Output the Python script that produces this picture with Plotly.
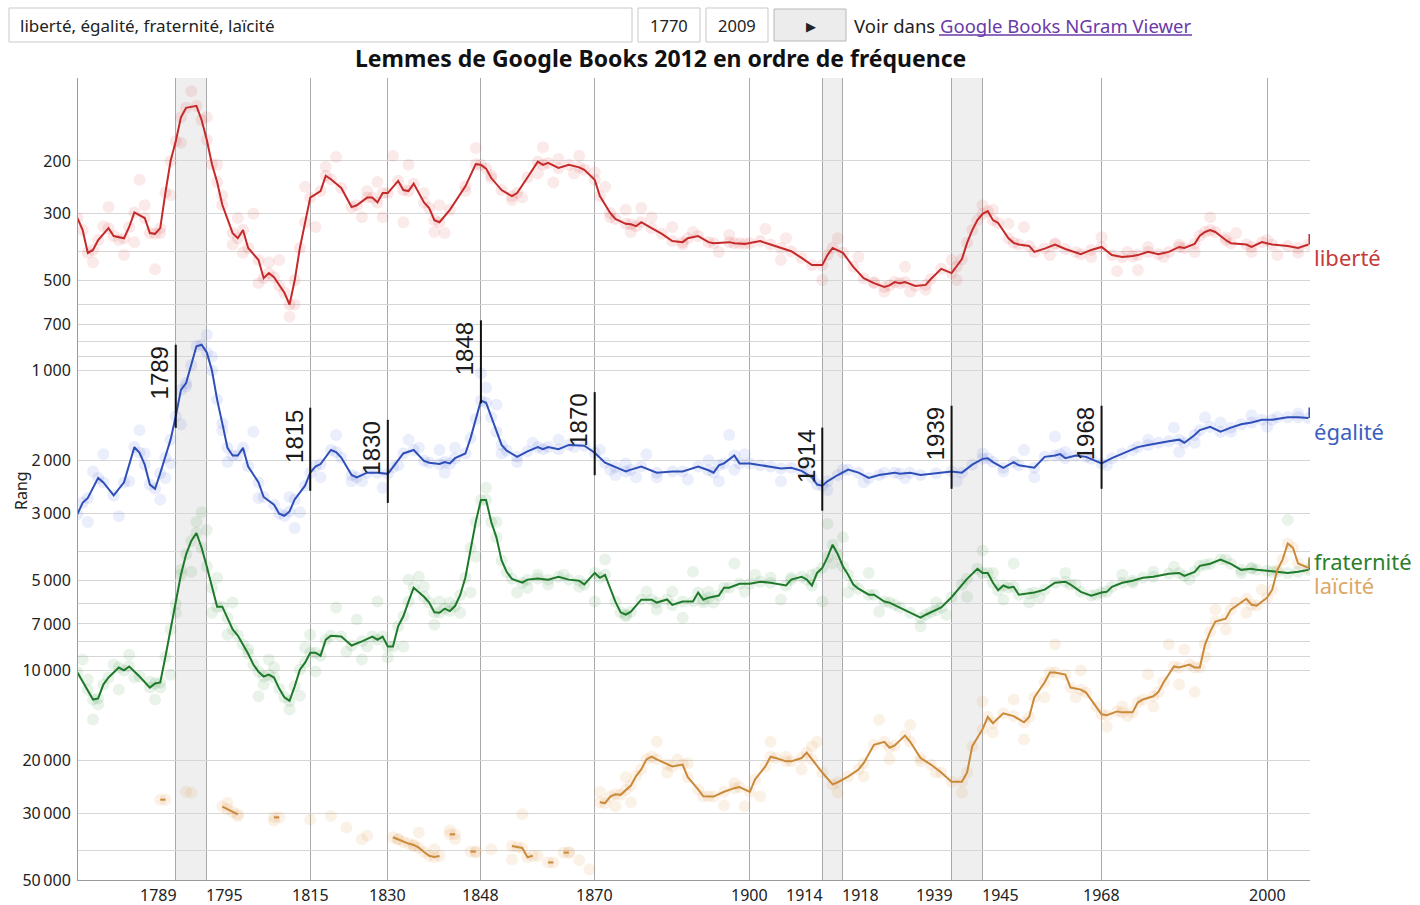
import math
import plotly.graph_objects as go

# ---------------------------------------------------------------------------
# Rank of each lemma (smoothed curve), as (year, rank) pairs
# ---------------------------------------------------------------------------
liberte_curve = [
    (1770, 310), (1771, 340), (1772, 405), (1773, 396), (1774, 367), (1776, 335),
    (1777, 356), (1779, 362), (1780, 332), (1781, 297), (1783, 310), (1784, 348),
    (1785, 350), (1786, 335), (1787, 255), (1788, 200), (1789, 172), (1790, 143),
    (1791, 133), (1793, 131), (1794, 146), (1795, 170), (1796, 205), (1797, 235),
    (1798, 280), (1800, 348), (1801, 362), (1802, 340), (1803, 390), (1805, 428),
    (1806, 492), (1807, 473), (1808, 488), (1809, 520), (1810, 550), (1811, 602),
    (1812, 500), (1813, 390), (1814, 320), (1815, 265), (1817, 252), (1818, 224),
    (1819, 230), (1821, 246), (1823, 285), (1824, 281), (1826, 265), (1827, 265),
    (1828, 275), (1829, 256), (1830, 256), (1832, 233), (1833, 250), (1834, 252),
    (1835, 238), (1837, 275), (1838, 287), (1839, 315), (1840, 320), (1842, 291),
    (1845, 243), (1847, 205), (1848, 206), (1849, 212), (1850, 228), (1852, 250),
    (1854, 262), (1855, 256), (1857, 227), (1859, 201), (1860, 206), (1861, 203),
    (1863, 211), (1865, 206), (1867, 210), (1868, 214), (1870, 231), (1871, 262),
    (1873, 298), (1874, 312), (1876, 324), (1877, 325), (1878, 330), (1879, 320),
    (1881, 335), (1883, 350), (1885, 370), (1887, 373), (1888, 362), (1890, 356),
    (1892, 373), (1893, 376), (1896, 373), (1897, 376), (1899, 378), (1900, 376),
    (1902, 370), (1904, 380), (1906, 390), (1908, 400), (1910, 421), (1912, 445),
    (1914, 445), (1915, 412), (1916, 390), (1918, 405), (1920, 451), (1922, 492),
    (1924, 511), (1926, 526), (1927, 520), (1928, 507), (1929, 511), (1930, 507),
    (1932, 522), (1934, 518), (1935, 495), (1937, 458), (1939, 473), (1940, 450),
    (1941, 425), (1942, 375), (1943, 340), (1944, 315), (1945, 300), (1946, 294),
    (1947, 315), (1948, 322), (1950, 362), (1951, 375), (1952, 380), (1954, 384),
    (1955, 402), (1957, 392), (1959, 380), (1961, 393), (1964, 409), (1966, 396),
    (1968, 387), (1970, 412), (1972, 418), (1974, 415), (1975, 412), (1977, 402),
    (1979, 409), (1981, 402), (1983, 387), (1984, 390), (1986, 378), (1987, 355),
    (1988, 345), (1989, 340), (1990, 345), (1992, 367), (1993, 376), (1996, 380),
    (1997, 387), (1999, 373), (2001, 380), (2004, 384), (2006, 390), (2008, 380),
]

egalite_curve = [
    (1770, 3010), (1771, 2760), (1772, 2660), (1774, 2280), (1775, 2360), (1777, 2610),
    (1779, 2360), (1781, 1800), (1782, 1880), (1783, 2060), (1784, 2400), (1785, 2480),
    (1786, 2200), (1787, 1950), (1788, 1700), (1789, 1420), (1790, 1160), (1791, 1100),
    (1792, 960), (1793, 830), (1794, 820), (1795, 870), (1796, 1000), (1797, 1250),
    (1798, 1500), (1799, 1810), (1800, 1920), (1801, 1920), (1802, 1810), (1803, 2090),
    (1805, 2360), (1806, 2640), (1808, 2800), (1809, 3000), (1810, 3050), (1811, 2950),
    (1812, 2690), (1814, 2420), (1815, 2190), (1816, 2090), (1817, 2050), (1819, 1840),
    (1820, 1870), (1821, 1950), (1823, 2230), (1824, 2270), (1826, 2190), (1828, 2190),
    (1830, 2210), (1831, 2100), (1833, 1890), (1835, 1840), (1837, 2000), (1838, 2030),
    (1840, 2050), (1841, 2020), (1842, 2040), (1843, 1960), (1845, 1890), (1846, 1680),
    (1847, 1450), (1848, 1260), (1849, 1280), (1850, 1430), (1851, 1600), (1852, 1770),
    (1853, 1850), (1855, 1940), (1857, 1860), (1859, 1800), (1860, 1830), (1861, 1800),
    (1863, 1830), (1865, 1770), (1868, 1780), (1870, 1880), (1872, 2030), (1874, 2100),
    (1876, 2170), (1877, 2140), (1879, 2090), (1882, 2190), (1885, 2170), (1887, 2170),
    (1890, 2090), (1892, 2150), (1893, 2190), (1894, 2070), (1895, 2040), (1897, 1920),
    (1898, 2040), (1900, 2040), (1902, 2070), (1904, 2090), (1906, 2120), (1908, 2110),
    (1910, 2160), (1912, 2270), (1913, 2400), (1914, 2420), (1915, 2340), (1917, 2230),
    (1919, 2140), (1921, 2190), (1923, 2280), (1925, 2230), (1928, 2190), (1929, 2210),
    (1931, 2190), (1933, 2230), (1936, 2200), (1939, 2170), (1941, 2190), (1943, 2060),
    (1945, 1970), (1946, 1960), (1947, 2020), (1949, 2110), (1951, 2020), (1952, 2070),
    (1955, 2110), (1957, 1940), (1959, 1920), (1960, 1900), (1961, 1960), (1963, 1920),
    (1965, 1940), (1966, 1970), (1968, 2040), (1970, 1960), (1972, 1890), (1975, 1800),
    (1977, 1770), (1979, 1740), (1981, 1720), (1983, 1700), (1984, 1740), (1986, 1640),
    (1987, 1580), (1989, 1540), (1991, 1600), (1993, 1550), (1995, 1510), (1997, 1490),
    (1999, 1460), (2001, 1460), (2004, 1430), (2006, 1430), (2008, 1440),
]

fraternite_curve = [
    (1770, 10160), (1772, 11590), (1773, 12510), (1774, 12400), (1775, 11150),
    (1776, 10560), (1778, 9780), (1779, 10000), (1780, 9700), (1782, 10480),
    (1784, 11410), (1785, 11060), (1786, 10970), (1787, 9000), (1788, 7300),
    (1789, 6000), (1790, 4800), (1791, 4100), (1792, 3700), (1793, 3480), (1794, 3900),
    (1795, 4500), (1796, 5300), (1797, 6130), (1798, 6130), (1799, 6670), (1800, 7300),
    (1801, 7650), (1802, 8200), (1803, 8800), (1804, 9560), (1805, 10100), (1806, 10480),
    (1807, 10330), (1808, 10560), (1809, 11500), (1810, 12300), (1811, 12640),
    (1812, 11300), (1813, 9940), (1814, 9420), (1815, 8730), (1816, 8730), (1817, 8930),
    (1818, 7900), (1819, 7660), (1821, 7710), (1823, 8260), (1825, 8000), (1827, 7710),
    (1828, 7900), (1829, 7710), (1830, 8320), (1831, 8320), (1832, 7130), (1833, 6600),
    (1834, 5900), (1835, 5300), (1837, 5680), (1838, 5940), (1839, 6400), (1840, 6420),
    (1841, 6220), (1842, 6340), (1843, 6100), (1844, 5600), (1845, 4900), (1846, 3900),
    (1847, 3200), (1848, 2700), (1849, 2700), (1850, 3200), (1851, 3600), (1852, 4300),
    (1853, 4700), (1854, 4950), (1856, 5100), (1857, 4980), (1859, 4940), (1861, 4980),
    (1863, 4870), (1865, 4980), (1867, 5020), (1868, 5170), (1870, 4730), (1871, 4910),
    (1872, 4800), (1874, 5900), (1875, 6400), (1876, 6520), (1877, 6370), (1879, 5810),
    (1881, 5810), (1882, 5940), (1884, 5800), (1885, 6050), (1887, 5890), (1889, 5890),
    (1890, 5500), (1891, 5810), (1892, 5720), (1894, 5630), (1895, 5300), (1896, 5300),
    (1898, 5140), (1900, 5140), (1902, 5060), (1904, 5100), (1907, 5210), (1908, 4980),
    (1910, 4870), (1911, 4980), (1912, 5210), (1913, 4730), (1914, 4550), (1915, 4200),
    (1916, 3810), (1917, 4100), (1918, 4500), (1919, 4800), (1920, 5170), (1921, 5340),
    (1923, 5590), (1924, 5590), (1926, 5890), (1927, 5940), (1929, 6170), (1931, 6420),
    (1933, 6670), (1934, 6520), (1935, 6400), (1936, 6300), (1937, 6170), (1939, 5700),
    (1941, 5170), (1942, 4950), (1944, 4580), (1945, 4730), (1946, 4730), (1947, 5100),
    (1948, 5400), (1949, 5210), (1950, 5300), (1951, 5260), (1952, 5590), (1954, 5550),
    (1955, 5500), (1957, 5380), (1959, 5100), (1961, 5060), (1962, 5170), (1964, 5470),
    (1966, 5630), (1968, 5500), (1969, 5470), (1970, 5260), (1972, 5100), (1974, 5020),
    (1976, 4910), (1978, 4870), (1981, 4760), (1983, 4730), (1984, 4840), (1986, 4690),
    (1987, 4480), (1989, 4410), (1991, 4270), (1993, 4410), (1995, 4620), (1997, 4580),
    (1998, 4620), (2000, 4650), (2002, 4690), (2004, 4730), (2006, 4690), (2008, 4620),
]

# laïcité is sparse before 1871: None marks a year without data (breaks the curve)
laicite_curve = [
    (1786, 26980), (1787, 26980), (1788, None),
    (1798, 28440), (1799, 29000), (1800, 29700), (1801, 30190), (1802, None),
    (1808, 30900), (1809, 30900), (1810, None),
    (1831, 36000), (1832, 36600), (1833, 37300), (1834, 37800), (1835, 38200),
    (1836, 39000), (1837, 40350), (1838, 41500), (1839, 41900), (1840, 41600), (1841, None),
    (1842, 35200), (1843, 35200), (1844, None),
    (1846, 40200), (1847, 40200), (1848, None),
    (1854, 38500), (1855, 38800), (1856, 39100), (1857, 42000), (1858, 41500), (1859, None),
    (1861, 43700), (1862, 43700), (1863, None),
    (1864, 40500), (1865, 40500), (1866, None),
    (1871, 27500), (1872, 27700), (1873, 26350), (1874, 25900), (1875, 26000),
    (1876, 25000), (1877, 24200), (1878, 22500), (1879, 21400), (1880, 19800),
    (1881, 19400), (1882, 19800), (1884, 20600), (1885, 20900), (1887, 20600),
    (1888, 22700), (1890, 24950), (1891, 26300), (1893, 26350), (1895, 25400),
    (1897, 24700), (1898, 24500), (1900, 25400), (1901, 23100), (1903, 20900),
    (1904, 19400), (1905, 19600), (1907, 20100), (1908, 20100), (1910, 19600),
    (1911, 18800), (1912, 19800), (1914, 21900), (1916, 24000), (1917, 23600),
    (1919, 22600), (1921, 21400), (1922, 20400), (1924, 17700), (1926, 17300),
    (1927, 18100), (1928, 17800), (1930, 16500), (1931, 17300), (1933, 19600),
    (1935, 20600), (1937, 21900), (1939, 23500), (1941, 23500), (1942, 21900),
    (1943, 17900), (1945, 15700), (1946, 14300), (1947, 15000), (1949, 13900),
    (1951, 14200), (1953, 14900), (1954, 14300), (1955, 12300), (1957, 10950),
    (1958, 10160), (1959, 10160), (1961, 10330), (1962, 11410), (1964, 11590),
    (1965, 11860), (1967, 13200), (1968, 14000), (1969, 14100), (1971, 13700),
    (1972, 13800), (1974, 13800), (1975, 12800), (1976, 12500), (1978, 12200),
    (1979, 11800), (1980, 10950), (1982, 9700), (1983, 9780), (1985, 9560),
    (1986, 9780), (1987, 9780), (1988, 8200), (1989, 7420), (1990, 6870), (1992, 6720),
    (1993, 6270), (1996, 5770), (1997, 6040), (1998, 6080), (2000, 5720), (2001, 5380),
    (2002, 4620), (2003, 4270), (2004, 3770), (2005, 3900), (2006, 4400), (2008, 4550),
]

# ---------------------------------------------------------------------------
# Yearly raw ranks that stand out from the smoothed curves
# ---------------------------------------------------------------------------
liberte_points = [
    (1773, 435), (1775, 330), (1776, 285), (1778, 367), (1779, 412), (1781, 373),
    (1782, 231), (1783, 281), (1785, 459), (1786, 348), (1788, 260), (1790, 174),
    (1792, 117), (1795, 143), (1797, 206), (1798, 260), (1800, 380), (1801, 310),
    (1802, 405), (1804, 300), (1805, 511), (1807, 435), (1809, 428), (1811, 662),
    (1812, 602), (1814, 244), (1816, 332), (1818, 209), (1820, 194), (1825, 308),
    (1826, 252), (1828, 235), (1829, 308), (1831, 192), (1833, 320), (1834, 206),
    (1837, 256), (1839, 345), (1840, 281), (1841, 348), (1845, 252), (1847, 181),
    (1850, 223), (1854, 270), (1856, 265), (1859, 220), (1860, 180), (1862, 236),
    (1863, 197), (1866, 220), (1867, 192), (1870, 218), (1872, 244), (1873, 308),
    (1876, 291), (1877, 345), (1879, 287), (1881, 308), (1885, 332), (1887, 380),
    (1889, 345), (1894, 402), (1896, 353), (1898, 376), (1903, 337), (1906, 428),
    (1907, 362), (1914, 499), (1917, 362), (1921, 418), (1924, 507), (1926, 546),
    (1930, 451), (1931, 546), (1934, 538), (1939, 428), (1940, 499), (1945, 281),
    (1947, 291), (1950, 324), (1953, 332), (1958, 412), (1959, 376), (1963, 402),
    (1966, 418), (1968, 359), (1971, 466), (1973, 402), (1975, 462), (1977, 387),
    (1980, 418), (1983, 380), (1986, 402), (1989, 308), (1992, 359), (1994, 348),
    (1997, 402), (2000, 367), (2002, 412), (2006, 405),
]

egalite_points = [
    (1772, 3200), (1773, 2170), (1775, 1900), (1778, 3060), (1780, 2340), (1782, 1580),
    (1783, 1890), (1786, 2690), (1787, 2280), (1788, 2040), (1790, 1510), (1791, 1130),
    (1795, 760), (1796, 900), (1798, 1580), (1799, 2020), (1804, 1600), (1805, 2660),
    (1811, 2640), (1812, 3350), (1813, 2970), (1817, 2270), (1820, 1640), (1823, 2340),
    (1825, 2340), (1829, 2460), (1832, 2070), (1834, 1700), (1836, 1810), (1840, 1840),
    (1841, 2190), (1843, 1810), (1848, 1020), (1849, 1140), (1851, 1300), (1852, 1890),
    (1855, 2020), (1858, 1740), (1863, 1700), (1866, 1800), (1871, 1840), (1873, 2140),
    (1874, 2230), (1876, 2040), (1878, 2270), (1880, 1900), (1882, 2270), (1888, 2310),
    (1892, 1990), (1894, 2340), (1896, 1640), (1897, 2140), (1899, 1900), (1906, 2340),
    (1911, 2110), (1915, 2500), (1918, 2140), (1922, 2360), (1926, 2190), (1930, 2280),
    (1940, 2340), (1945, 1890), (1949, 2170), (1953, 1840), (1955, 2270), (1959, 1660),
    (1961, 1870), (1969, 2070), (1974, 1840), (1977, 1700), (1982, 1550), (1983, 1870),
    (1986, 1740), (1988, 1430), (1991, 1490), (1993, 1600), (1997, 1410), (2000, 1540),
    (2002, 1430), (2006, 1390),
]

fraternite_points = [
    (1771, 9200), (1772, 10730), (1773, 14580), (1774, 13000), (1777, 9560),
    (1778, 11590), (1780, 8860), (1781, 10560), (1784, 10900), (1785, 12510),
    (1786, 11410), (1788, 10330), (1789, 6420), (1790, 4620), (1792, 4690),
    (1793, 3200), (1794, 2970), (1795, 3400), (1796, 6420), (1797, 4910), (1799, 7600),
    (1800, 5940), (1803, 8520), (1805, 12200), (1806, 11150), (1807, 9200), (1808, 9780),
    (1811, 13500), (1813, 12150), (1814, 8400), (1815, 7600), (1816, 10080),
    (1820, 6170), (1822, 8660), (1824, 6770), (1825, 9200), (1826, 8320), (1828, 5890),
    (1830, 9060), (1833, 8320), (1834, 4980), (1836, 4870), (1837, 5260), (1839, 7040),
    (1840, 5890), (1842, 5940), (1844, 6420), (1846, 5500), (1847, 4180), (1849, 2460),
    (1851, 3200), (1855, 5500), (1857, 5300), (1859, 4800), (1861, 5170), (1864, 4800),
    (1867, 5260), (1870, 5890), (1872, 4270), (1876, 6600), (1880, 5470), (1882, 6270),
    (1885, 5470), (1887, 6670), (1889, 4690), (1891, 5940), (1892, 5470), (1893, 5940),
    (1897, 4400), (1899, 5470), (1901, 4800), (1904, 4910), (1906, 5810), (1908, 4910),
    (1912, 4800), (1914, 5890), (1915, 3240), (1916, 4400), (1918, 3600), (1919, 5500),
    (1923, 4730), (1925, 6370), (1928, 6040), (1933, 7130), (1936, 5940), (1938, 6520),
    (1942, 5680), (1945, 3980), (1947, 4730), (1949, 5810), (1951, 4400), (1954, 5940),
    (1956, 5720), (1961, 4730), (1963, 5170), (1967, 5590), (1972, 4800), (1974, 5100),
    (1978, 4690), (1982, 4510), (1985, 4980), (1988, 4440), (1992, 4270), (1995, 4730),
    (1997, 4550), (2001, 4690), (2004, 3150),
]

laicite_points = [
    (1791, 25400), (1792, 25600), (1799, 27700), (1801, 30600), (1808, 31700),
    (1815, 31400), (1819, 30600), (1822, 33400), (1825, 36600), (1826, 35500),
    (1832, 36600), (1835, 38500), (1836, 34700), (1839, 39500), (1842, 34200),
    (1843, 36600), (1847, 40500), (1850, 39500), (1854, 42700), (1856, 30200),
    (1859, 41600), (1865, 40500), (1867, 43000), (1869, 46000), (1871, 25400),
    (1874, 28400), (1876, 22700), (1877, 27500), (1882, 17300), (1884, 21900),
    (1886, 19800), (1888, 20400), (1892, 26300), (1895, 28200), (1897, 23800),
    (1899, 28400), (1902, 26350), (1904, 17300), (1907, 19400), (1910, 21400),
    (1912, 17900), (1913, 17300), (1917, 25600), (1922, 22600), (1925, 14600),
    (1927, 19800), (1931, 15200), (1933, 20100), (1936, 21900), (1941, 25600),
    (1945, 12700), (1947, 16100), (1951, 12500), (1953, 17000), (1957, 12300),
    (1959, 8200), (1963, 12300), (1964, 10000), (1969, 15400), (1972, 13200),
    (1973, 14200), (1977, 10300), (1978, 13200), (1981, 8200), (1983, 11150),
    (1984, 8520), (1986, 11800), (1988, 9000), (1990, 6270), (1992, 7310),
    (1994, 5940), (1996, 6420), (1999, 5380),
]

lemmas = ["liberté", "égalité", "fraternité", "laïcité"]
curves = [liberte_curve, egalite_curve, fraternite_curve, laicite_curve]
points = [liberte_points, egalite_points, fraternite_points, laicite_points]

# Historical markers and shaded periods
events = [1789, 1815, 1830, 1848, 1870, 1914, 1939, 1968]
periods = [(1789, 1795), (1914, 1918), (1939, 1945)]
x_ticks = [1789, 1795, 1815, 1830, 1848, 1870, 1900, 1914, 1918, 1939, 1945, 1968, 2000]
y_labels = {200: "200", 300: "300", 500: "500", 700: "700", 1000: "1\u202f000",
            2000: "2\u202f000", 3000: "3\u202f000", 5000: "5\u202f000", 7000: "7\u202f000",
            10000: "10\u202f000", 20000: "20\u202f000", 30000: "30\u202f000",
            50000: "50\u202f000"}

# ---------------------------------------------------------------------------
# Styling
# ---------------------------------------------------------------------------
FONT = "Noto Sans"
line_colors = ["#c42a2a", "#2f4fb8", "#1e7a2a", "#c98a3a"]
point_colors = ["rgba(220,60,60,0.11)", "rgba(70,100,220,0.11)",
                "rgba(40,140,50,0.10)", "rgba(225,150,60,0.12)"]
halo_colors = ["rgba(220,60,60,0.12)", "rgba(70,100,220,0.12)",
               "rgba(40,140,50,0.11)", "rgba(225,150,60,0.13)"]
label_colors = ["#c53a3a", "#3a60c0", "#2a7f2a", "#dca868"]
label_shift = [-12, -13, 9, -17]
event_tops = [820, 1330, 1460, 680, 1180, 1550, 1310, 1310]   # upper end of each marker
EVENT_SPAN = 10 ** 0.277                                        # marker length (log scale)
END_TICK = 10 ** -0.035                                         # small tick at each curve end
X_END = 2008.3

W, H = 1420, 905
L, R, T, B = 78, 110, 78, 25
PW, PH = W - L - R, H - T - B


def px(x):
    return (x - L) / PW


def py(y):
    return (H - B - y) / PH


fig = go.Figure()

for curve, pts, pc, hc in zip(curves, points, point_colors, halo_colors):
    # raw yearly values
    fig.add_trace(go.Scatter(
        x=[p[0] for p in pts], y=[p[1] for p in pts], mode="markers",
        marker=dict(size=12, color=pc, line=dict(width=0)),
        hoverinfo="skip", showlegend=False))
    # soft band formed by the yearly values that sit on the curve
    fig.add_trace(go.Scatter(
        x=[c[0] for c in curve], y=[c[1] for c in curve], mode="markers",
        marker=dict(size=12, color=hc, line=dict(width=0)),
        hoverinfo="skip", showlegend=False))

for name, curve, lc in zip(lemmas, curves, line_colors):
    fig.add_trace(go.Scatter(
        x=[c[0] for c in curve], y=[c[1] for c in curve], mode="lines",
        line=dict(color=lc, width=2), connectgaps=False, name=name,
        showlegend=False))
    last = [c for c in curve if c[1] is not None][-1][1]
    fig.add_trace(go.Scatter(
        x=[X_END - 0.15, X_END - 0.15], y=[last, last * END_TICK], mode="lines",
        line=dict(color=lc, width=1.5), hoverinfo="skip", showlegend=False))

# event markers on the égalité curve
for yr, top in zip(events, event_tops):
    fig.add_trace(go.Scatter(
        x=[yr, yr], y=[top, top * EVENT_SPAN], mode="lines",
        line=dict(color="#111111", width=2), hoverinfo="skip", showlegend=False))

annotations = []
for yr, top in zip(events, event_tops):
    annotations.append(dict(
        x=yr, y=math.log10(top), xref="x", yref="y", text=str(yr), textangle=-90,
        xanchor="right", yanchor="top", xshift=-1, showarrow=False,
        font=dict(family="Liberation Sans", size=24, color="#1a1a1a")))

# series names at the right end of each curve
for name, curve, col, shift in zip(lemmas, curves, label_colors, label_shift):
    last = [c for c in curve if c[1] is not None][-1][1]
    annotations.append(dict(
        x=1, xref="paper", y=math.log10(last), yref="y", text=name,
        xanchor="left", yanchor="middle", xshift=2, yshift=shift, showarrow=False,
        font=dict(family=FONT, size=22, color=col)))

# x tick labels (pulled apart around the shaded periods)
starts = {a for a, b in periods}
ends = {b for a, b in periods}
for yr in x_ticks:
    anchor = "right" if yr in starts else ("left" if yr in ends else "center")
    shift = 3 if yr in starts else (-3 if yr in ends else 0)
    annotations.append(dict(
        x=yr, xref="x", y=py(895), yref="paper", text=str(yr), xanchor=anchor,
        yanchor="middle", xshift=shift, showarrow=False,
        font=dict(family=FONT, size=16, color="#222222")))

annotations.append(dict(
    x=px(21), y=py(491), xref="paper", yref="paper", text="Rang", textangle=-90,
    xanchor="center", yanchor="middle",
    showarrow=False, font=dict(family=FONT, size=16, color="#222222")))

annotations.append(dict(
    x=px(660), y=py(58), xref="paper", yref="paper", xanchor="center", yanchor="middle",
    text="<b>Lemmes de Google Books 2012 en ordre de fréquence</b>",
    showarrow=False, font=dict(family=FONT, size=23, color="#111111")))

# query bar
shapes = []
for x0, x1 in [(9, 632), (638, 700), (706, 768)]:
    shapes.append(dict(type="rect", xref="paper", yref="paper",
                       x0=px(x0), x1=px(x1), y0=py(42), y1=py(8),
                       line=dict(color="#c9c9c9", width=1), fillcolor="white"))
shapes.append(dict(type="rect", xref="paper", yref="paper",
                   x0=px(774), x1=px(846), y0=py(41), y1=py(9),
                   line=dict(color="#b8b8b8", width=1), fillcolor="#ececec"))
shapes.append(dict(type="line", xref="paper", yref="paper",
                   x0=px(939), x1=px(1192), y0=py(35), y1=py(35),
                   line=dict(color="#6a3aa8", width=1.5)))

bar_text = dict(xref="paper", yref="paper", yanchor="middle", showarrow=False)
annotations += [
    dict(x=px(18), y=py(25), xanchor="left",
         text="liberté, égalité, fraternité, laïcité",
         font=dict(family=FONT, size=17, color="#222222"), **bar_text),
    dict(x=px(669), y=py(25), xanchor="center", text="1770",
         font=dict(family=FONT, size=16.5, color="#222222"), **bar_text),
    dict(x=px(737), y=py(25), xanchor="center", text="2009",
         font=dict(family=FONT, size=16.5, color="#222222"), **bar_text),
    dict(x=px(811), y=py(26), xanchor="center", text="▶",
         font=dict(family="DejaVu Sans", size=13, color="#222222"), **bar_text),
    dict(x=px(852), y=py(25), xanchor="left",
         text="Voir dans <span style='color:#6a3aa8'>Google Books NGram Viewer</span>",
         font=dict(family=FONT, size=18.5, color="#222222"), **bar_text),
]

# shaded periods
for a, b in periods:
    shapes.append(dict(type="rect", xref="x", yref="paper", x0=a, x1=b, y0=0, y1=1,
                       fillcolor="#efefef", line=dict(width=0), layer="below"))

grid_vals = [m * k for k in (100, 1000, 10000) for m in range(1, 10)
             if 200 <= m * k <= 50000]

fig.update_layout(
    width=W, height=H, autosize=False,
    margin=dict(l=L, r=R, t=T, b=B, pad=0),
    paper_bgcolor="white", plot_bgcolor="white",
    font=dict(family=FONT, size=16, color="#222222"),
    shapes=shapes, annotations=annotations, showlegend=False,
    xaxis=dict(range=[1770.1, X_END], tickvals=x_ticks, showticklabels=False,
               showgrid=True, gridcolor="#a9a9a9", gridwidth=1, zeroline=False,
               showline=True, linecolor="#9a9a9a", linewidth=1, ticks=""),
    yaxis=dict(type="log", range=[math.log10(50000), 2.0243],
               tickvals=grid_vals, ticktext=[y_labels.get(v, "") for v in grid_vals],
               showgrid=True, gridcolor="#d6d6d6", gridwidth=1, zeroline=False,
               showline=True, linecolor="#9a9a9a", linewidth=1, ticks="",
               ticklabelstandoff=3,
               tickfont=dict(family=FONT, size=16, color="#222222")),
)

fig.write_html("out.html")
